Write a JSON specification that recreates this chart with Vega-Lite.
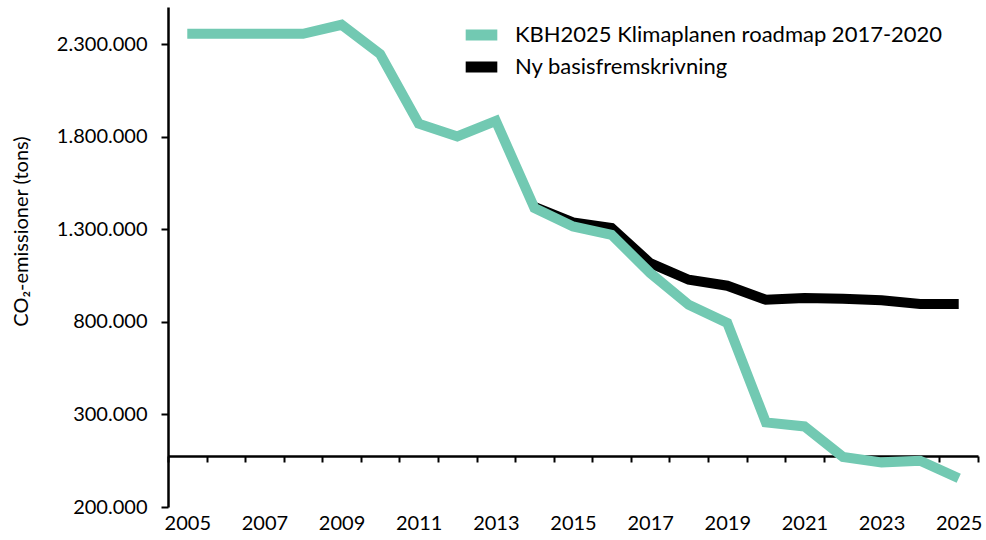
{
  "$schema": "https://vega.github.io/schema/vega-lite/v6.json",
  "width": 810,
  "height": 500,
  "autosize": {"type": "none"},
  "padding": {"left": 168, "top": 7, "right": 8, "bottom": 33},
  "config": {
    "view": {"stroke": null},
    "font": "Lato",
    "locale": {"number": {"decimal": ",", "thousands": ".", "grouping": [3], "currency": ["", " kr"]}}
  },
  "data": {
    "values": [
      {"year": 2005, "series": "KBH2025 Klimaplanen roadmap 2017-2020", "value": 2355000},
      {"year": 2006, "series": "KBH2025 Klimaplanen roadmap 2017-2020", "value": 2355000},
      {"year": 2007, "series": "KBH2025 Klimaplanen roadmap 2017-2020", "value": 2355000},
      {"year": 2008, "series": "KBH2025 Klimaplanen roadmap 2017-2020", "value": 2355000},
      {"year": 2009, "series": "KBH2025 Klimaplanen roadmap 2017-2020", "value": 2404000},
      {"year": 2010, "series": "KBH2025 Klimaplanen roadmap 2017-2020", "value": 2246000},
      {"year": 2011, "series": "KBH2025 Klimaplanen roadmap 2017-2020", "value": 1870000},
      {"year": 2012, "series": "KBH2025 Klimaplanen roadmap 2017-2020", "value": 1801000},
      {"year": 2013, "series": "KBH2025 Klimaplanen roadmap 2017-2020", "value": 1885000},
      {"year": 2014, "series": "KBH2025 Klimaplanen roadmap 2017-2020", "value": 1415000},
      {"year": 2015, "series": "KBH2025 Klimaplanen roadmap 2017-2020", "value": 1315000},
      {"year": 2016, "series": "KBH2025 Klimaplanen roadmap 2017-2020", "value": 1270000},
      {"year": 2017, "series": "KBH2025 Klimaplanen roadmap 2017-2020", "value": 1064000},
      {"year": 2018, "series": "KBH2025 Klimaplanen roadmap 2017-2020", "value": 892000},
      {"year": 2019, "series": "KBH2025 Klimaplanen roadmap 2017-2020", "value": 794000},
      {"year": 2020, "series": "KBH2025 Klimaplanen roadmap 2017-2020", "value": 257000},
      {"year": 2021, "series": "KBH2025 Klimaplanen roadmap 2017-2020", "value": 235000},
      {"year": 2022, "series": "KBH2025 Klimaplanen roadmap 2017-2020", "value": 70000},
      {"year": 2023, "series": "KBH2025 Klimaplanen roadmap 2017-2020", "value": 41000},
      {"year": 2024, "series": "KBH2025 Klimaplanen roadmap 2017-2020", "value": 50000},
      {"year": 2025, "series": "KBH2025 Klimaplanen roadmap 2017-2020", "value": -45000},
      {"year": 2014, "series": "Ny basisfremskrivning", "value": 1420000},
      {"year": 2015, "series": "Ny basisfremskrivning", "value": 1337000},
      {"year": 2016, "series": "Ny basisfremskrivning", "value": 1307000},
      {"year": 2017, "series": "Ny basisfremskrivning", "value": 1117000},
      {"year": 2018, "series": "Ny basisfremskrivning", "value": 1027000},
      {"year": 2019, "series": "Ny basisfremskrivning", "value": 995000},
      {"year": 2020, "series": "Ny basisfremskrivning", "value": 919000},
      {"year": 2021, "series": "Ny basisfremskrivning", "value": 928000},
      {"year": 2022, "series": "Ny basisfremskrivning", "value": 925000},
      {"year": 2023, "series": "Ny basisfremskrivning", "value": 916000},
      {"year": 2024, "series": "Ny basisfremskrivning", "value": 896000},
      {"year": 2025, "series": "Ny basisfremskrivning", "value": 896000}
    ]
  },
  "encoding": {
    "x": {
      "field": "year",
      "type": "quantitative",
      "scale": {"domain": [2004.5, 2025.5], "nice": false, "zero": false},
      "axis": {
        "title": null,
        "offset": -51,
        "values": [2004.5, 2005, 2005.5, 2006, 2006.5, 2007, 2007.5, 2008, 2008.5, 2009, 2009.5, 2010, 2010.5, 2011, 2011.5, 2012, 2012.5, 2013, 2013.5, 2014, 2014.5, 2015, 2015.5, 2016, 2016.5, 2017, 2017.5, 2018, 2018.5, 2019, 2019.5, 2020, 2020.5, 2021, 2021.5, 2022, 2022.5, 2023, 2023.5, 2024, 2024.5, 2025, 2025.5],
        "labelExpr": "(datum.value % 2 === 1) ? ('' + datum.value) : ''",
        "tickOpacity": {"condition": {"test": "datum.value % 1 === 0", "value": 0}, "value": 1},
        "labelOverlap": false,
        "labelFlush": false,
        "grid": false,
        "domainColor": "#000000",
        "domainWidth": 2.5,
        "tickColor": "#000000",
        "tickWidth": 2,
        "tickSize": 6,
        "labelFontSize": 20,
        "labelColor": "#000000",
        "labelPadding": 51
      }
    },
    "y": {
      "field": "value",
      "type": "quantitative",
      "scale": {"domain": [-200000, 2500000], "nice": false, "zero": false},
      "axis": {
        "title": "CO₂-emissioner (tons)",
        "titleFontSize": 20,
        "titleFontWeight": "normal",
        "titleColor": "#000000",
        "titleX": -147,
        "titleY": 224,
        "titleAngle": -90,
        "titleAlign": "center",
        "titleBaseline": "middle",
        "values": [-200000, 300000, 800000, 1300000, 1800000, 2300000],
        "labelExpr": "format(abs(datum.value), ',d')",
        "grid": false,
        "domainColor": "#000000",
        "domainWidth": 2.5,
        "tickColor": "#000000",
        "tickWidth": 2,
        "tickSize": 7,
        "labelFontSize": 20,
        "labelColor": "#000000",
        "labelPadding": 14
      }
    },
    "color": {
      "field": "series",
      "type": "nominal",
      "scale": {
        "domain": ["KBH2025 Klimaplanen roadmap 2017-2020", "Ny basisfremskrivning"],
        "range": ["#72c9b2", "#000000"]
      },
      "legend": {
        "title": null,
        "orient": "none",
        "legendX": 292,
        "legendY": 17,
        "symbolType": "stroke",
        "symbolStrokeWidth": 11,
        "symbolSize": 1000,
        "clipHeight": 22,
        "labelFontSize": 22,
        "labelColor": "#000000",
        "labelOffset": 12,
        "labelLimit": 600,
        "rowPadding": 10
      }
    }
  },
  "layer": [
    {
      "transform": [{"filter": "datum.series === 'Ny basisfremskrivning'"}],
      "mark": {"type": "line", "strokeWidth": 10, "strokeCap": "butt", "strokeJoin": "miter"}
    },
    {
      "transform": [{"filter": "datum.series === 'KBH2025 Klimaplanen roadmap 2017-2020'"}],
      "mark": {"type": "line", "strokeWidth": 10, "strokeCap": "butt", "strokeJoin": "miter"}
    }
  ]
}
